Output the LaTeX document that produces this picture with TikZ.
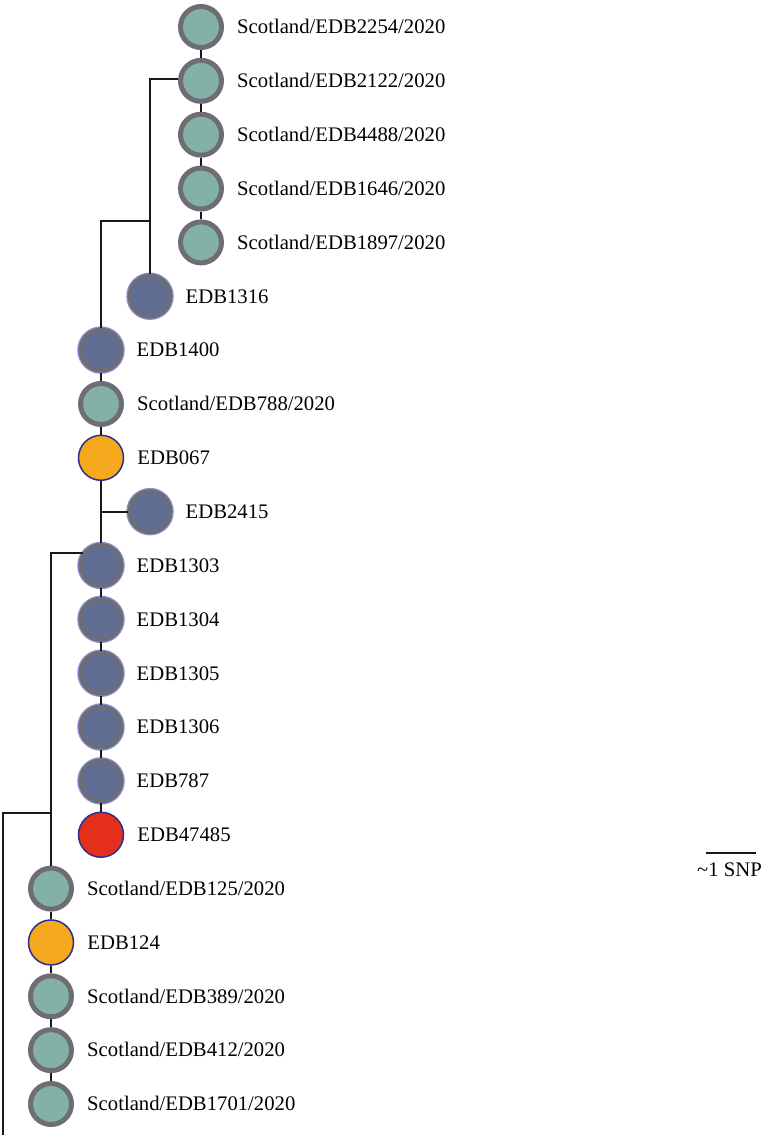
\documentclass[tikz,border=0pt]{standalone}
\usepackage{fontspec}
\setmainfont{Liberation Serif}
\usepackage{tikz}
\usetikzlibrary{shapes.geometric, arrows, calc}
\definecolor{scotgreen}{HTML}{83B1A7}
\definecolor{ringgrey}{HTML}{6E6D73}
\definecolor{edbblue}{HTML}{5F6E92}
\definecolor{edbring}{HTML}{8A8FD8}
\definecolor{edborange}{HTML}{F6A91C}
\definecolor{edbred}{HTML}{E4301A}
\definecolor{navyring}{HTML}{2B2F8E}
\tikzstyle{scot} = [circle, minimum size=41pt, inner sep=0pt, line width=5pt, draw=ringgrey, fill=scotgreen]
\tikzstyle{local} = [circle, minimum size=41pt, inner sep=0pt, line width=4pt, draw=ringgrey, fill=edbblue, preaction={draw=edbring, line width=6.5pt}]
\tikzstyle{anc} = [circle, minimum size=45pt, inner sep=0pt, line width=1.5pt, draw=navyring, fill=edborange]
\tikzstyle{hit} = [circle, minimum size=45pt, inner sep=0pt, line width=1.5pt, draw=navyring, fill=edbred]
\tikzstyle{tag} = [font=\fontsize{20.7}{24}\selectfont, inner sep=0pt, anchor=base west, yshift=-6.8pt]
\tikzstyle{edge} = [line width=2pt, draw=black!90]

\begin{document}
\begin{tikzpicture}[x=1pt, y=1pt, node distance=53.85pt, label distance=13pt]
\useasboundingbox (0,0) rectangle (764,-1135);
\node (s2254) [scot, label={[tag]right:Scotland/EDB2254/2020}] at (201,-27) {};
\node (s2122) [scot, below of=s2254, label={[tag]right:Scotland/EDB2122/2020}] {};
\node (s4488) [scot, below of=s2122, label={[tag]right:Scotland/EDB4488/2020}] {};
\node (s1646) [scot, below of=s4488, label={[tag]right:Scotland/EDB1646/2020}] {};
\node (s1897) [scot, below of=s1646, label={[tag]right:Scotland/EDB1897/2020}] {};
\node (n1316) [local, below of=s1897, xshift=-51pt, label={[tag]right:EDB1316}] {};
\node (n1400) [local, below of=n1316, xshift=-49pt, label={[tag]right:EDB1400}] {};
\node (s788) [scot, below of=n1400, label={[tag]right:Scotland/EDB788/2020}] {};
\node (n067) [anc, below of=s788, label={[tag]right:EDB067}] {};
\node (n2415) [local, below of=n067, xshift=49pt, label={[tag]right:EDB2415}] {};
\node (n1303) [local, below of=n2415, xshift=-49pt, label={[tag]right:EDB1303}] {};
\node (n1304) [local, below of=n1303, label={[tag]right:EDB1304}] {};
\node (n1305) [local, below of=n1304, label={[tag]right:EDB1305}] {};
\node (n1306) [local, below of=n1305, label={[tag]right:EDB1306}] {};
\node (n787) [local, below of=n1306, label={[tag]right:EDB787}] {};
\node (n47485) [hit, below of=n787, label={[tag]right:EDB47485}] {};
\node (s125) [scot, below of=n47485, xshift=-50pt, label={[tag]right:Scotland/EDB125/2020}] {};
\node (n124) [anc, below of=s125, label={[tag]right:EDB124}] {};
\node (s389) [scot, below of=n124, label={[tag]right:Scotland/EDB389/2020}] {};
\node (s412) [scot, below of=s389, label={[tag]right:Scotland/EDB412/2020}] {};
\node (s1701) [scot, below of=s412, label={[tag]right:Scotland/EDB1701/2020}] {};

% branch points
\coordinate (j1) at (150,-221);
\coordinate (j3) at (51,-813);
\coordinate (root) at (3,-1135);

\foreach \a/\b in {s2254/s2122, s2122/s4488, s4488/s1646, s1646/s1897,
  n1400/s788, s788/n067, n067/n1303, n1303/n1304, n1304/n1305, n1305/n1306,
  n1306/n787, n787/n47485, s125/n124, n124/s389, s389/s412, s412/s1701}
  \draw [edge] (\a) -- (\b);
\draw [edge] (s2122.175) -| (n1316);
\draw [edge] (j1) -| (n1400);
\draw [edge] (n2415) -- (n2415 -| n067);
\draw [edge] (n1303.145) -| (s125);
\draw [edge] (j3) -| (root);

% scale bar
\coordinate (bar1) at (706,-853);
\coordinate (bar2) at (756,-853);
\draw [edge] (bar1) -- (bar2);
\node (snp) [tag, yshift=6.8pt] at (697,-876) {\textasciitilde1 SNP};
\end{tikzpicture}
\end{document}
